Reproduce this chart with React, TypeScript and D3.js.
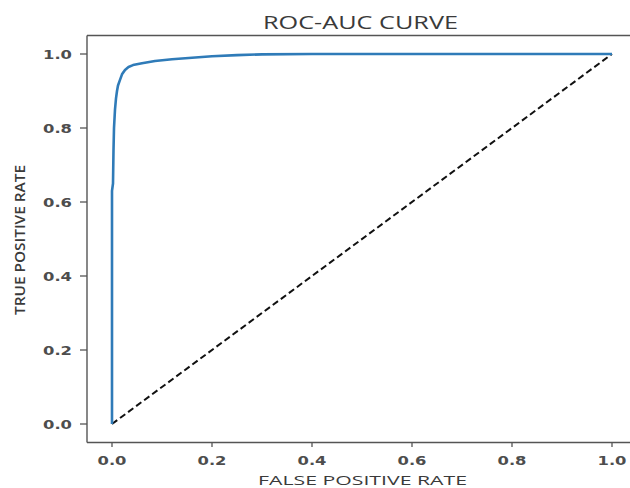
import React from "react";
import * as d3 from "d3";

const fpr = [0, 0, 0.0, 0.002, 0.003, 0.004, 0.006, 0.008, 0.01, 0.012, 0.016, 0.02, 0.026, 0.033, 0.042, 0.06, 0.086, 0.12, 0.16, 0.2, 0.25, 0.3, 0.4, 1.0];
const tpr = [0, 0.3, 0.63, 0.65, 0.74, 0.8, 0.85, 0.88, 0.9, 0.915, 0.93, 0.945, 0.957, 0.965, 0.97, 0.975, 0.981, 0.986, 0.99, 0.994, 0.997, 0.999, 1.0, 1.0];
const diagX = [0, 1];
const diagY = [0, 1];
const xTicks = [0, 0.2, 0.4, 0.6, 0.8, 1.0];
const yTicks = [0, 0.2, 0.4, 0.6, 0.8, 1.0];
const title = "ROC-AUC CURVE";
const xLabel = "FALSE POSITIVE RATE";
const yLabel = "TRUE POSITIVE RATE";

export default function App() {
  const W = 630, H = 488;
  const x = d3.scaleLinear().domain([-0.05, 1.05]).range([87, 637]);
  const y = d3.scaleLinear().domain([-0.05, 1.05]).range([442.5, 35.5]);
  const line = d3.line<number>().x((_, i) => x(fpr[i])).y((_, i) => y(tpr[i]));
  const diag = d3.line<number>().x((_, i) => x(diagX[i])).y((_, i) => y(diagY[i]));
  const idx = fpr.map((_, i) => i);
  const txt = "#3a3a3a";
  const tickTxt = "#4d4d4d";
  return (
    <svg width={W} height={H} style={{ position: "absolute", left: 0, top: 0, background: "#fff" }}>
      <rect x={0} y={0} width={W} height={H} fill="#fff" />
      <path d={diag([0, 1])!} fill="none" stroke="#111" strokeWidth={2} strokeDasharray="6.5,3.5" />
      <path d={line(idx)!} fill="none" stroke="#2f7bb8" strokeWidth={2.6} strokeLinejoin="round" />
      {/* spines */}
      <line x1={x(-0.05)} x2={W} y1={y(1.05)} y2={y(1.05)} stroke="#555" strokeWidth={1.4} />
      <line x1={x(-0.05)} x2={x(-0.05)} y1={y(1.05)} y2={y(-0.05)} stroke="#555" strokeWidth={1.4} />
      <line x1={x(-0.05)} x2={W} y1={y(-0.05)} y2={y(-0.05)} stroke="#555" strokeWidth={1.4} />
      {xTicks.map((t) => (
        <g key={"x" + t}>
          <line x1={x(t)} x2={x(t)} y1={y(-0.05)} y2={y(-0.05) + 4.5} stroke="#555" strokeWidth={1.3} />
          <text x={x(t)} y={465} textAnchor="middle" fontFamily="DejaVu Sans" fontWeight="bold" fontSize={12.5} fill={tickTxt}
            textLength={29} lengthAdjust="spacingAndGlyphs">{t.toFixed(1)}</text>
        </g>
      ))}
      {yTicks.map((t) => (
        <g key={"y" + t}>
          <line x1={x(-0.05) - 7} x2={x(-0.05)} y1={y(t)} y2={y(t)} stroke="#555" strokeWidth={1.3} />
          <text x={72} y={y(t) + 4.6} textAnchor="end" fontFamily="DejaVu Sans" fontWeight="bold" fontSize={12.5} fill={tickTxt}
            textLength={29} lengthAdjust="spacingAndGlyphs">{t.toFixed(1)}</text>
        </g>
      ))}
      <text x={360.5} y={28.5} textAnchor="middle" fontFamily="Open Sans" fontSize={17.5} fill={txt}
        textLength={195} lengthAdjust="spacingAndGlyphs">{title}</text>
      <text x={362.5} y={485} textAnchor="middle" fontFamily="Open Sans" fontWeight={500} fontSize={13.5} fill={txt}
        textLength={209} lengthAdjust="spacingAndGlyphs">{xLabel}</text>
      <text transform="translate(25,240) rotate(-90)" textAnchor="middle" fontFamily="Open Sans" fontWeight={600} fontSize={14} fill={txt}
        textLength={150} lengthAdjust="spacingAndGlyphs">{yLabel}</text>
    </svg>
  );
}
